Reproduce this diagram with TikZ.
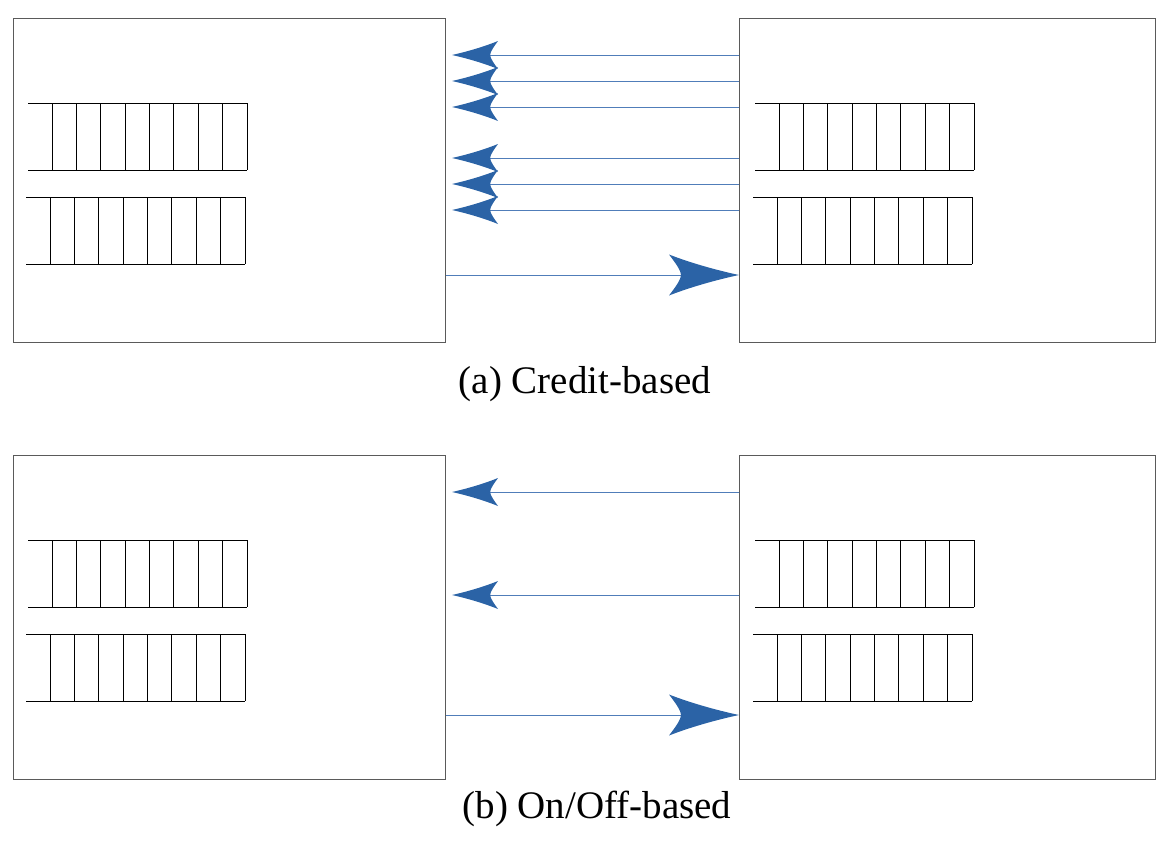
\documentclass[tikz,border=0pt]{standalone}
\usepackage{fontspec}
\setmainfont{Liberation Serif}
\usetikzlibrary{arrows.meta}
\definecolor{boxgray}{RGB}{90,90,90}
\definecolor{arrowblue}{RGB}{43,99,166}
\definecolor{lineblue}{RGB}{80,125,185}
\pgfdeclarearrow{
  name = Barb,
  parameters = {\the\pgfarrowlength,\the\pgfarrowwidth},
  setup code = {
    \pgfarrowssettipend{0pt}
    \pgfarrowssetbackend{-\pgfarrowlength}
    \pgfarrowssetlineend{-0.75\pgfarrowlength}
    \pgfarrowssavethe\pgfarrowlength
    \pgfarrowssavethe\pgfarrowwidth
  },
  drawing code = {
    \pgfpathmoveto{\pgfpointorigin}
    \pgfpathcurveto{\pgfpoint{-0.33\pgfarrowlength}{0.12\pgfarrowwidth}}{\pgfpoint{-0.7\pgfarrowlength}{0.3\pgfarrowwidth}}{\pgfpoint{-\pgfarrowlength}{0.5\pgfarrowwidth}}
    \pgfpathcurveto{\pgfpoint{-0.92\pgfarrowlength}{0.32\pgfarrowwidth}}{\pgfpoint{-0.83\pgfarrowlength}{0.12\pgfarrowwidth}}{\pgfpoint{-0.83\pgfarrowlength}{0pt}}
    \pgfpathcurveto{\pgfpoint{-0.83\pgfarrowlength}{-0.12\pgfarrowwidth}}{\pgfpoint{-0.92\pgfarrowlength}{-0.32\pgfarrowwidth}}{\pgfpoint{-\pgfarrowlength}{-0.5\pgfarrowwidth}}
    \pgfpathcurveto{\pgfpoint{-0.7\pgfarrowlength}{-0.3\pgfarrowwidth}}{\pgfpoint{-0.33\pgfarrowlength}{-0.12\pgfarrowwidth}}{\pgfpointorigin}
    \pgfpathclose
    \pgfusepathqfill
  },
  defaults = {length = 45pt, width = 27pt}
}
\begin{document}
\begin{tikzpicture}[x=1pt,y=-1pt,
  lbox/.style={draw=boxgray, line width=1pt, minimum width=432pt, minimum height=324pt, inner sep=0pt, anchor=north west},
  rbox/.style={draw=boxgray, line width=1pt, minimum width=416pt, minimum height=324pt, inner sep=0pt, anchor=north west},
  qline/.style={draw=black, line width=0.9pt},
  credit/.style={draw=lineblue, line width=0.9pt, -{Barb[length=46pt, width=28pt, color=arrowblue, fill=arrowblue]}},
  datafw/.style={draw=lineblue, line width=0.9pt, -{Barb[length=70pt, width=41pt, color=arrowblue, fill=arrowblue]}},
  caption/.style={font=\fontsize{39}{46}\selectfont, anchor=base, inner sep=0pt},
  fifo/.pic={
    \draw[qline] (0,0) -- (219,0) (0,67) -- (219,67);
    \foreach \k in {0,...,8} \draw[qline] ({24+24.375*\k},0) -- ++(0,67);
  }]
\useasboundingbox (0,0) rectangle (1166,854);

% ---------- (a) Credit-based ----------
\node[lbox] (TL) at (13,18) {};
\node[rbox] (TR) at (739,18) {};
\pic at (28,103) {fifo};
\pic at (26,197) {fifo};
\pic at (755,103) {fifo};
\pic at (753,197) {fifo};

\coordinate (ta1) at (452,55);
\coordinate (ta2) at (452,81);
\coordinate (ta3) at (452,107);
\coordinate (ta4) at (452,158);
\coordinate (ta5) at (452,184);
\coordinate (ta6) at (452,210);
\foreach \c in {ta1,ta2,ta3,ta4,ta5,ta6}
  \draw[credit] (TR.west |- \c) -- (\c);
\coordinate (tf) at (446,275);
\draw[datafw] (tf) -- (TR.west |- tf);

\node[caption] (capa) at (585,393) {(a) Credit-based};

% ---------- (b) On/Off-based ----------
\node[lbox] (BL) at (13,455) {};
\node[rbox] (BR) at (739,455) {};
\pic at (28,540) {fifo};
\pic at (26,634) {fifo};
\pic at (755,540) {fifo};
\pic at (753,634) {fifo};

\coordinate (ba1) at (452,492);
\coordinate (ba2) at (452,595);
\foreach \c in {ba1,ba2}
  \draw[credit] (BR.west |- \c) -- (\c);
\coordinate (bf) at (446,715);
\draw[datafw] (bf) -- (BR.west |- bf);

\node[caption] (capb) at (597,818) {(b) On/Off-based};
\end{tikzpicture}
\end{document}
